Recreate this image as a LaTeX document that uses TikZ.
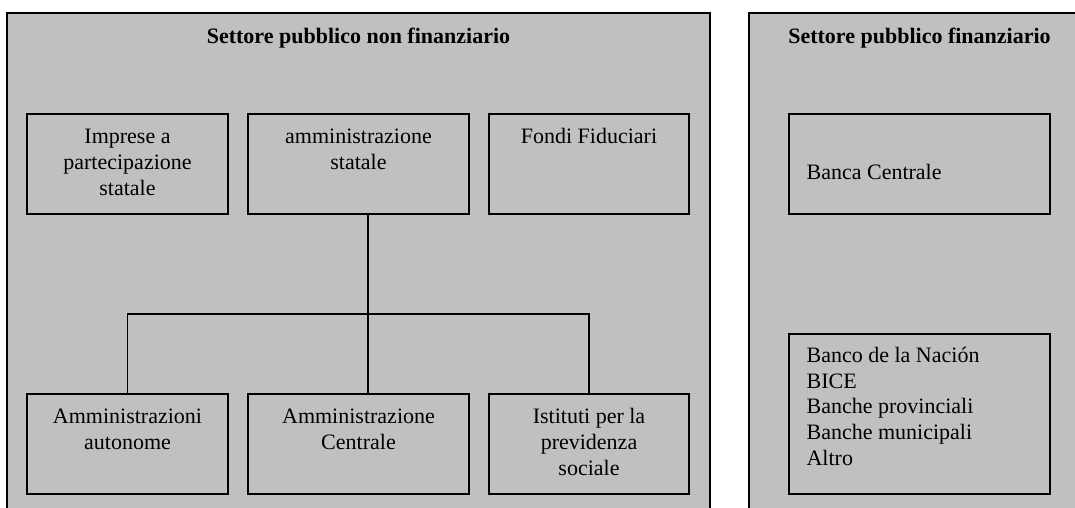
\documentclass[tikz,border=0pt]{standalone}
\usepackage{fontspec}
\setmainfont{Liberation Serif}
\usetikzlibrary{calc}
\definecolor{panelgray}{HTML}{C0C0C0}
\tikzset{
  panel/.style={draw=black, line width=1.2pt, fill=panelgray},
  box/.style={draw=black, line width=1.2pt, fill=panelgray, minimum height=100pt, inner sep=0pt},
  txt/.style={font=\fontsize{22}{26}\selectfont, align=center, inner sep=0pt, anchor=base},
  ltxt/.style={font=\fontsize{22}{25.7}\selectfont, align=left, inner sep=0pt, anchor=base west},
  ttl/.style={font=\fontsize{22}{26}\selectfont\bfseries, inner sep=0pt, anchor=base},
  conn/.style={draw=black, line width=1.2pt}
}
\begin{document}
\begin{tikzpicture}[x=1pt,y=-1pt]
\useasboundingbox (0,0) rectangle (1075,508);
\clip (0,0) rectangle (1075,508);
\fill[white] (0,0) rectangle (1075,508);
% panels
\draw[panel] (7,13) rectangle (710,530);
\draw[panel] (749,13) rectangle (1100,530);
\node[ttl] (t1) at (358.5,44) {Settore pubblico non finanziario};
\node[ttl] (t2) at (919.5,44) {Settore pubblico finanziario};
% top row
\node[box, minimum width=201pt] (imp) at (127.5,164) {};
\node[box, minimum width=221pt] (amm) at (358.5,164) {};
\node[box, minimum width=200pt] (fon) at (589,164) {};
% bottom row
\node[box, minimum width=201pt] (aut) at (127.5,444) {};
\node[box, minimum width=221pt] (cen) at (358.5,444) {};
\node[box, minimum width=200pt] (ist) at (589,444) {};
% right panel boxes
\node[box, minimum width=261pt] (bc) at (919.5,164) {};
\node[box, minimum width=261pt, minimum height=160pt] (bn) at (919.5,414) {};
% texts (anchor base = baseline of last line)
\node[txt] (imptx) at ([yshift=-82pt]imp.north) {Imprese a\\partecipazione\\statale};
\node[txt] (ammtx) at ([yshift=-56pt]amm.north) {amministrazione\\statale};
\node[txt] (fontx) at ([yshift=-30pt]fon.north) {Fondi Fiduciari};
\node[txt] (auttx) at ([yshift=-56pt]aut.north) {Amministrazioni\\autonome};
\node[txt] (centx) at ([yshift=-56pt]cen.north) {Amministrazione\\Centrale};
\node[txt] (isttx) at ([yshift=-82pt]ist.north) {Istituti per la\\previdenza\\sociale};
\node[ltxt] (bctx) at ([xshift=18pt,yshift=-66pt]bc.north west) {Banca Centrale};
\node[ltxt] (bntx) at ([xshift=18pt,yshift=-131.8pt]bn.north west) {Banco de la Nación\\BICE\\Banche provinciali\\Banche municipali\\Altro};
% connectors
\coordinate (j) at (368,314);
\draw[conn] ([xshift=9.5pt]amm.south) -- ([xshift=9.5pt]cen.north);
\draw[conn] (aut.north) -- (aut.north |- j) -- (ist.north |- j) -- (ist.north);
\end{tikzpicture}
\end{document}
